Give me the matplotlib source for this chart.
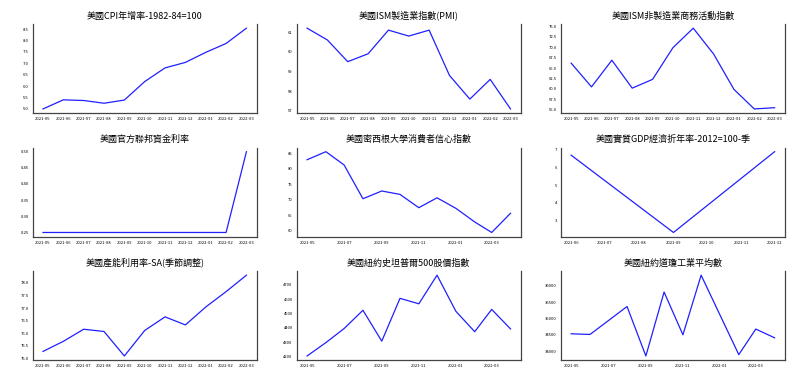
import datetime
import numpy as np
import matplotlib
matplotlib.use("Agg")
import matplotlib.pyplot as plt
import matplotlib.dates as mdates

plt.rcParams['font.family'] = ['Noto Sans CJK TC', 'DejaVu Sans']

months = ["2021-05", "2021-06", "2021-07", "2021-08", "2021-09", "2021-10",
          "2021-11", "2021-12", "2022-01", "2022-02", "2022-03"]

cpi = [5.0, 5.4, 5.37, 5.25, 5.39, 6.2, 6.8, 7.04, 7.48, 7.87, 8.54]
pmi = [61.2, 60.6, 59.5, 59.9, 61.1, 60.8, 61.1, 58.8, 57.6, 58.6, 57.1]
ism_services = [66.2, 60.5, 66.9, 60.2, 62.3, 69.9, 74.6, 68.4, 59.9, 55.2, 55.5]
fed_rate = [0.25, 0.25, 0.25, 0.25, 0.25, 0.25, 0.25, 0.25, 0.25, 0.25, 0.50]
capacity = [75.28, 75.68, 76.16, 76.07, 75.1, 76.11, 76.65, 76.33, 77.04, 77.65, 78.3]

# monthly date series (May 2021 - Apr 2022)
month_dates = [datetime.date(2021, m, 1) for m in range(5, 13)] + \
              [datetime.date(2022, m, 1) for m in range(1, 5)]
michigan = [82.9, 85.5, 81.2, 70.3, 72.8, 71.7, 67.4, 70.6, 67.2, 62.8, 59.4, 65.6]
sp500 = [4204, 4297, 4395, 4522, 4307, 4605, 4567, 4766, 4515, 4373, 4528, 4392]
dow = [34536, 34515, 34935, 35371, 33856, 35814, 34505, 36330, 35113, 33897, 34680, 34412]

gdp_dates = [datetime.date(2021, 6, 1), datetime.date(2021, 9, 1), datetime.date(2021, 12, 1)]
gdp = [6.7, 2.3, 6.9]

fig, axs = plt.subplots(3, 3, figsize=(8, 3.83), dpi=100)
fig.subplots_adjust(left=0.041, right=0.981, bottom=0.06, top=0.937, wspace=0.18, hspace=0.39)

def style(ax, title):
    ax.set_title(title, fontsize=6.5, pad=4)
    ax.spines['top'].set_visible(False)
    for s in ['left', 'right', 'bottom']:
        ax.spines[s].set_color('#444444')
        ax.spines[s].set_linewidth(0.9)
    ax.tick_params(length=0, labelsize=3.0, pad=3)

line_kw = dict(color='#2020ff', linewidth=0.9)
odd_months = mdates.MonthLocator(bymonth=[1, 3, 5, 7, 9, 11])

# row 1
ax = axs[0, 0]
ax.plot(months, cpi, **line_kw)
ax.set_yticks(np.arange(5.0, 8.51, 0.5))
style(ax, "美國CPI年增率-1982-84=100")

ax = axs[0, 1]
ax.plot(months, pmi, **line_kw)
ax.set_yticks([57, 58, 59, 60, 61])
style(ax, "美國ISM製造業指數(PMI)")

ax = axs[0, 2]
ax.plot(months, ism_services, **line_kw)
ax.set_yticks(np.arange(55.0, 75.01, 2.5))
ax.yaxis.set_major_formatter(matplotlib.ticker.FormatStrFormatter('%.1f'))
style(ax, "美國ISM非製造業商務活動指數")

# row 2
ax = axs[1, 0]
ax.plot(months, fed_rate, **line_kw)
ax.set_yticks(np.arange(0.25, 0.501, 0.05))
ax.yaxis.set_major_formatter(matplotlib.ticker.FormatStrFormatter('%.2f'))
style(ax, "美國官方聯邦資金利率")

ax = axs[1, 1]
ax.plot(month_dates, michigan, **line_kw)
ax.xaxis.set_major_locator(odd_months)
ax.xaxis.set_major_formatter(mdates.DateFormatter('%Y-%m'))
ax.set_yticks([60, 65, 70, 75, 80, 85])
style(ax, "美國密西根大學消費者信心指數")

ax = axs[1, 2]
ax.plot(gdp_dates, gdp, **line_kw)
ax.xaxis.set_major_locator(mdates.MonthLocator())
ax.xaxis.set_major_formatter(mdates.DateFormatter('%Y-%m'))
ax.set_yticks([3, 4, 5, 6, 7])
style(ax, "美國實質GDP經濟折年率-2012=100-季")

# row 3
ax = axs[2, 0]
ax.plot(months, capacity, **line_kw)
ax.set_yticks(np.arange(75.0, 78.01, 0.5))
ax.yaxis.set_major_formatter(matplotlib.ticker.FormatStrFormatter('%.1f'))
style(ax, "美國產能利用率-SA(季節調整)")

ax = axs[2, 1]
ax.plot(month_dates, sp500, **line_kw)
ax.xaxis.set_major_locator(mdates.MonthLocator(bymonth=[1, 3, 5, 7, 9, 11]))
ax.xaxis.set_major_formatter(mdates.DateFormatter('%Y-%m'))
ax.set_yticks([4200, 4300, 4400, 4500, 4600, 4700])
style(ax, "美國紐約史坦普爾500股價指數")

ax = axs[2, 2]
ax.plot(month_dates, dow, **line_kw)
ax.xaxis.set_major_locator(mdates.MonthLocator(bymonth=[1, 3, 5, 7, 9, 11]))
ax.xaxis.set_major_formatter(mdates.DateFormatter('%Y-%m'))
ax.set_yticks([34000, 34500, 35000, 35500, 36000])
style(ax, "美國紐約道瓊工業平均數")

fig.savefig("out.png", dpi=100)
